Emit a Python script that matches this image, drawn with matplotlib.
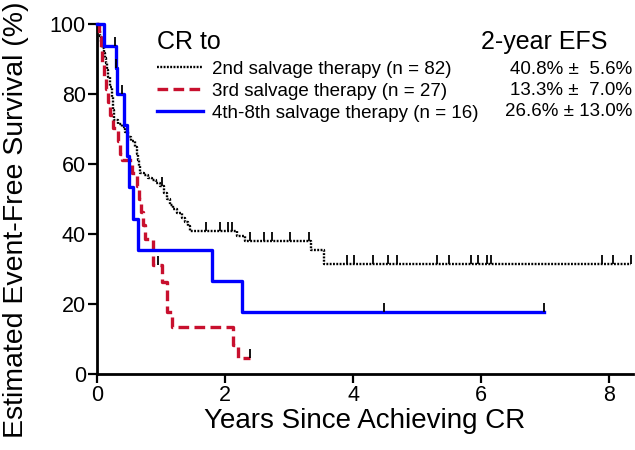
import numpy as np
import matplotlib
matplotlib.use("Agg")
import matplotlib.pyplot as plt
from matplotlib.lines import Line2D

plt.rcParams["font.family"] = ["Liberation Sans", "DejaVu Sans"]

# Kaplan-Meier steps (years, % event-free)
t_2nd = [0, 0.03, 0.05, 0.06, 0.08, 0.11, 0.13, 0.14, 0.16, 0.17, 0.20, 0.23,
         0.25, 0.27, 0.33, 0.39, 0.44, 0.48, 0.53, 0.59, 0.63, 0.64, 0.66, 0.67,
         0.73, 0.80, 0.86, 0.92, 0.98, 1.05, 1.09, 1.14, 1.19, 1.25, 1.33, 1.38,
         1.42, 1.45, 2.19, 2.31, 3.34, 3.55]
s_2nd = [100, 98.3, 96.6, 94.9, 93.1, 91.7, 90.3, 88.9, 86.9, 84.9, 82.0, 79.1,
         75.4, 72.6, 71.4, 70.6, 69.1, 67.7, 66.6, 64.9, 62.9, 61.1, 59.4, 57.4,
         56.9, 56.0, 55.4, 54.6, 53.7, 51.7, 50.0, 48.3, 47.1, 46.0, 44.6, 43.4,
         42.3, 40.8, 39.4, 38.0, 35.4, 31.4]
end_2nd = 8.34
cens_2nd = [1.02, 1.70, 1.92, 2.05, 2.11, 2.39, 2.61, 2.73, 3.02, 3.31, 3.91,
            4.02, 4.31, 4.55, 4.69, 5.31, 5.50, 5.84, 5.95, 6.09, 6.16, 7.88,
            8.05, 8.34]

t_3rd = [0, 0.03, 0.06, 0.08, 0.11, 0.14, 0.17, 0.20, 0.25, 0.33, 0.36, 0.39,
         0.55, 0.63, 0.66, 0.69, 0.72, 0.75, 0.87, 1.02, 1.09, 1.17, 2.12, 2.20]
s_3rd = [100, 96.3, 92.6, 88.9, 85.2, 81.5, 77.8, 74.1, 70.4, 66.7, 63.0, 61.1,
         57.4, 53.7, 50.0, 46.3, 42.6, 38.6, 31.1, 26.3, 17.7, 13.3, 8.3, 4.6]
end_3rd = 2.39
cens_3rd = [0.95, 2.39]

t_4th = [0, 0.11, 0.29, 0.31, 0.42, 0.47, 0.50, 0.56, 0.64, 1.80, 2.27]
s_4th = [100, 93.75, 87.5, 80.0, 71.1, 62.2, 53.3, 44.4, 35.5, 26.6, 17.7]
end_4th = 6.98
cens_4th = [0.28, 0.30, 0.39, 4.48, 6.98]

labels = ["2nd salvage therapy (n = 82)",
          "3rd salvage therapy (n = 27)",
          "4th-8th salvage therapy (n = 16)"]
efs = ["40.8% \u00b1  5.6%", "13.3% \u00b1  7.0%", "26.6% \u00b1 13.0%"]

RED = "#c8102e"
BLUE = "#0000ff"
styles = [dict(color="black", lw=1.7, ls=(0, (0.8, 0.6))),
          dict(color=RED, lw=2.4, ls=(0, (3.2, 1.6))),
          dict(color=BLUE, lw=2.4, ls="-")]


def km_step(ax, t, s, t_end, style):
    x = np.append(t, t_end)
    y = np.append(s, s[-1])
    ax.step(x, y, where="post", clip_on=False, zorder=3, **style)


def censor_marks(ax, t, s, ct):
    t = np.asarray(t)
    idx = np.searchsorted(t, ct, side="right") - 1
    v = np.asarray(s)[idx]
    ax.vlines(ct, v, v + 2.6, color="black", lw=1.3, zorder=4, clip_on=False)


fig = plt.figure(figsize=(6.35, 4.5), dpi=100)
ax = fig.add_axes([97 / 635, 76 / 450, 536 / 635, 350 / 450])

series = [(t_2nd, s_2nd, end_2nd, cens_2nd),
          (t_3rd, s_3rd, end_3rd, cens_3rd),
          (t_4th, s_4th, end_4th, cens_4th)]
for (t, s, te, ct), st in zip(series, styles):
    km_step(ax, t, s, te, st)
    censor_marks(ax, t, s, ct)

ax.set_xlim(0, 8.37)
ax.set_ylim(0, 100)
ax.set_xticks([0, 2, 4, 6, 8])
ax.set_yticks([0, 20, 40, 60, 80, 100])
for sp in ("top", "right"):
    ax.spines[sp].set_visible(False)
for sp in ("left", "bottom"):
    ax.spines[sp].set_linewidth(2)
ax.tick_params(width=1.6, length=6.5, labelsize=15.5, pad=1.5)
ax.set_xlabel("Years Since Achieving CR", fontsize=20, labelpad=1)
ax.set_ylabel("Estimated Event-Free Survival (%)", fontsize=20.5)
ax.yaxis.set_label_coords(-0.127, 0.44)

handles = [Line2D([], [], **st) for st in styles]
leg = ax.legend(handles, labels, loc="upper left", bbox_to_anchor=(0.112, 0.895),
                frameon=False, fontsize=13.5, handlelength=2.45,
                handletextpad=0.48, labelspacing=0.26, borderpad=0,
                borderaxespad=0)
ax.text(0.112, 0.948, "CR to", transform=ax.transAxes, fontsize=18,
        ha="left", va="center")
ax.text(0.953, 0.948, "2-year EFS", transform=ax.transAxes, fontsize=18,
        ha="right", va="center")
for i, txt in enumerate(efs):
    ax.text(0.998, 0.869 - i * 0.06, txt, transform=ax.transAxes,
            fontsize=13.5, ha="right", va="center")

fig.savefig("out.png", dpi=100)
